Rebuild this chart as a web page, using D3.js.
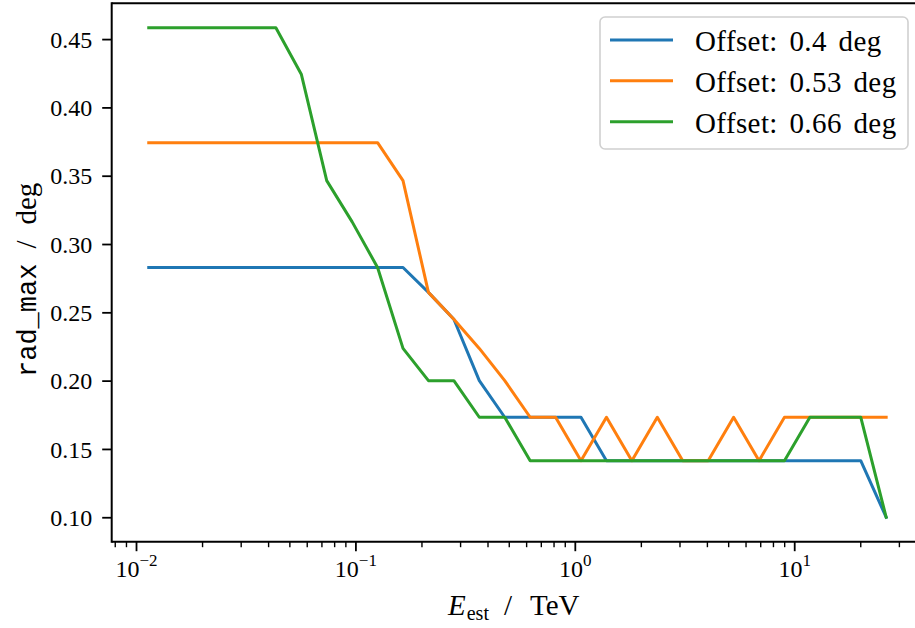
<!DOCTYPE html>
<html>
<head>
<meta charset="utf-8">
<script src="https://cdn.jsdelivr.net/npm/d3@7"></script>
<style>
  html, body { margin: 0; padding: 0; background: #fff; }
  svg { display: block; font-family: 'Liberation Serif', 'DejaVu Serif', serif; }
  .mono { font-family: 'Liberation Mono', 'DejaVu Sans Mono', monospace; }
  .serif { font-family: 'Liberation Serif', 'DejaVu Serif', serif; }
</style>
</head>
<body>
<svg id="chart" width="915" height="628"></svg>
<script>
// Energy bin centres (TeV)
const energies = [0.01143, 0.01492, 0.01949, 0.02545, 0.03323, 0.04340, 0.05667, 0.07400,
  0.09665, 0.1262, 0.1648, 0.2152, 0.2810, 0.3670, 0.4793, 0.6259, 0.8174, 1.067,
  1.394, 1.820, 2.377, 3.104, 4.054, 5.294, 6.914, 9.028, 11.79, 15.39, 20.10, 26.25];

const seriesNames = ["Offset: 0.4 deg", "Offset: 0.53 deg", "Offset: 0.66 deg"];
const seriesColors = ["#1f77b4", "#ff7f0e", "#2ca02c"];

const offset040 = [0.2828, 0.2828, 0.2828, 0.2828, 0.2828, 0.2828, 0.2828, 0.2828, 0.2828, 0.2828,
  0.2828, 0.2646, 0.2449, 0.2000, 0.1732, 0.1732, 0.1732, 0.1732, 0.1414, 0.1414,
  0.1414, 0.1414, 0.1414, 0.1414, 0.1414, 0.1414, 0.1414, 0.1414, 0.1414, 0.1000];
const offset053 = [0.3742, 0.3742, 0.3742, 0.3742, 0.3742, 0.3742, 0.3742, 0.3742, 0.3742, 0.3742,
  0.3464, 0.2646, 0.2449, 0.2236, 0.2000, 0.1732, 0.1732, 0.1414, 0.1732, 0.1414,
  0.1732, 0.1414, 0.1414, 0.1732, 0.1414, 0.1732, 0.1732, 0.1732, 0.1732, 0.1732];
const offset066 = [0.4583, 0.4583, 0.4583, 0.4583, 0.4583, 0.4583, 0.4243, 0.3464, 0.3162, 0.2828,
  0.2236, 0.2000, 0.2000, 0.1732, 0.1732, 0.1414, 0.1414, 0.1414, 0.1414, 0.1414,
  0.1414, 0.1414, 0.1414, 0.1414, 0.1414, 0.1414, 0.1732, 0.1732, 0.1732, 0.1000];

const yTicks = [0.10, 0.15, 0.20, 0.25, 0.30, 0.35, 0.40, 0.45];
const xMajorExps = [-2, -1, 0, 1];

const series = [offset040, offset053, offset066];

const svg = d3.select("#chart");
const pL = 111.7, pR = 922.8, pT = 3.3, pB = 541.7;

const x = d3.scaleLog().domain([Math.pow(10, -2.1108), Math.pow(10, 1.5861)]).range([pL, pR]);
const y = d3.scaleLinear().domain([0.0821, 0.4762]).range([pB, pT]);

svg.append("defs").append("clipPath").attr("id", "clip")
  .append("rect").attr("x", pL).attr("y", pT).attr("width", pR - pL).attr("height", pB - pT);

// Lines
const line = d3.line().x((d, i) => x(energies[i])).y(d => y(d));
series.forEach((s, k) => {
  svg.append("path")
    .datum(s)
    .attr("clip-path", "url(#clip)")
    .attr("fill", "none")
    .attr("stroke", seriesColors[k])
    .attr("stroke-width", 3)
    .attr("stroke-linejoin", "round")
    .attr("stroke-linecap", "square")
    .attr("d", line);
});

// Spines
svg.append("line").attr("x1", pL).attr("x2", pR).attr("y1", pT).attr("y2", pT)
  .attr("stroke", "#000").attr("stroke-width", 2);
svg.append("line").attr("x1", pL).attr("x2", pR).attr("y1", pB).attr("y2", pB)
  .attr("stroke", "#000").attr("stroke-width", 2);
svg.append("line").attr("x1", pL).attr("x2", pL).attr("y1", pT - 1).attr("y2", pB + 1)
  .attr("stroke", "#000").attr("stroke-width", 2);

// Y axis
const yAxis = d3.axisLeft(y).tickValues(yTicks).tickFormat(d3.format(".2f")).tickSize(9.5).tickPadding(10);
const gy = svg.append("g").attr("transform", `translate(${pL},0)`).call(yAxis)
  .attr("font-family", null).attr("font-size", null);
gy.select(".domain").remove();
gy.selectAll(".tick line").attr("stroke", "#000").attr("stroke-width", 1.8);
gy.selectAll(".tick text").attr("class", "serif").style("font-size", "24px").attr("fill", "#000")
  .attr("dy", "0.34em");

// X axis major
const majors = xMajorExps.map(e => Math.pow(10, e));
const xAxis = d3.axisBottom(x).tickValues(majors).tickFormat("").tickSize(9.5);
const gx = svg.append("g").attr("transform", `translate(0,${pB})`).call(xAxis)
  .attr("font-family", null).attr("font-size", null);
gx.select(".domain").remove();
gx.selectAll(".tick line").attr("stroke", "#000").attr("stroke-width", 1.8);
gx.selectAll(".tick").each(function(d, i) {
  const t = d3.select(this).append("text")
    .attr("class", "serif")
    .attr("y", 35).attr("text-anchor", "middle")
    .style("font-size", "24px").attr("fill", "#000");
  t.append("tspan").text("10");
  t.append("tspan").attr("dy", -11).style("font-size", "17px")
    .text(xMajorExps[i] < 0 ? "\u2212" + (-xMajorExps[i]) : String(xMajorExps[i]));
});

// X minor
const [d0, d1] = x.domain();
const minors = [];
for (let e = -3; e <= 2; e++) {
  for (let m = 2; m <= 9; m++) {
    const v = m * Math.pow(10, e);
    if (v >= d0 && v <= d1) minors.push(v);
  }
}
const xMinor = d3.axisBottom(x).tickValues(minors).tickFormat("").tickSize(5.5);
const gxm = svg.append("g").attr("transform", `translate(0,${pB})`).call(xMinor);
gxm.select(".domain").remove();
gxm.selectAll(".tick line").attr("stroke", "#000").attr("stroke-width", 1.4);

// X axis label
const xl = svg.append("text").attr("class", "serif").attr("x", 448).attr("y", 615)
  .style("font-size", "29px").attr("fill", "#000");
xl.append("tspan").attr("font-style", "italic").text("E");
xl.append("tspan").style("font-size", "20px").attr("dx", 1).attr("dy", 5).text("est");
xl.append("tspan").attr("dx", 15).attr("dy", -5).text("/");
xl.append("tspan").attr("dx", 18).text("TeV");

// Y axis label
const yl = svg.append("text").attr("class", "serif").attr("transform", `translate(36,377) rotate(-90)`)
  .style("font-size", "29px").attr("fill", "#000");
yl.append("tspan").attr("class", "mono").style("font-size", "27px").text("rad_max");
yl.append("tspan").attr("dx", 15).text("/");
yl.append("tspan").attr("dx", 16).text("deg");

// Legend
const lg = svg.append("g");
lg.append("rect").attr("x", 600).attr("y", 17).attr("width", 308).attr("height", 132)
  .attr("rx", 5).attr("fill", "#fff").attr("fill-opacity", 0.8)
  .attr("stroke", "#d0d0d0").attr("stroke-width", 1.6);
const legendRows = [40, 80.7, 121.7];
seriesNames.forEach((name, k) => {
  lg.append("line").attr("x1", 610).attr("x2", 673).attr("y1", legendRows[k]).attr("y2", legendRows[k])
    .attr("stroke", seriesColors[k]).attr("stroke-width", 3);
  lg.append("text").attr("class", "serif").attr("x", 695).attr("y", legendRows[k] + 11)
    .style("font-size", "29px").attr("fill", "#000")
    .attr("word-spacing", 4).attr("letter-spacing", 0.4).text(name);
});
</script>
</body>
</html>
